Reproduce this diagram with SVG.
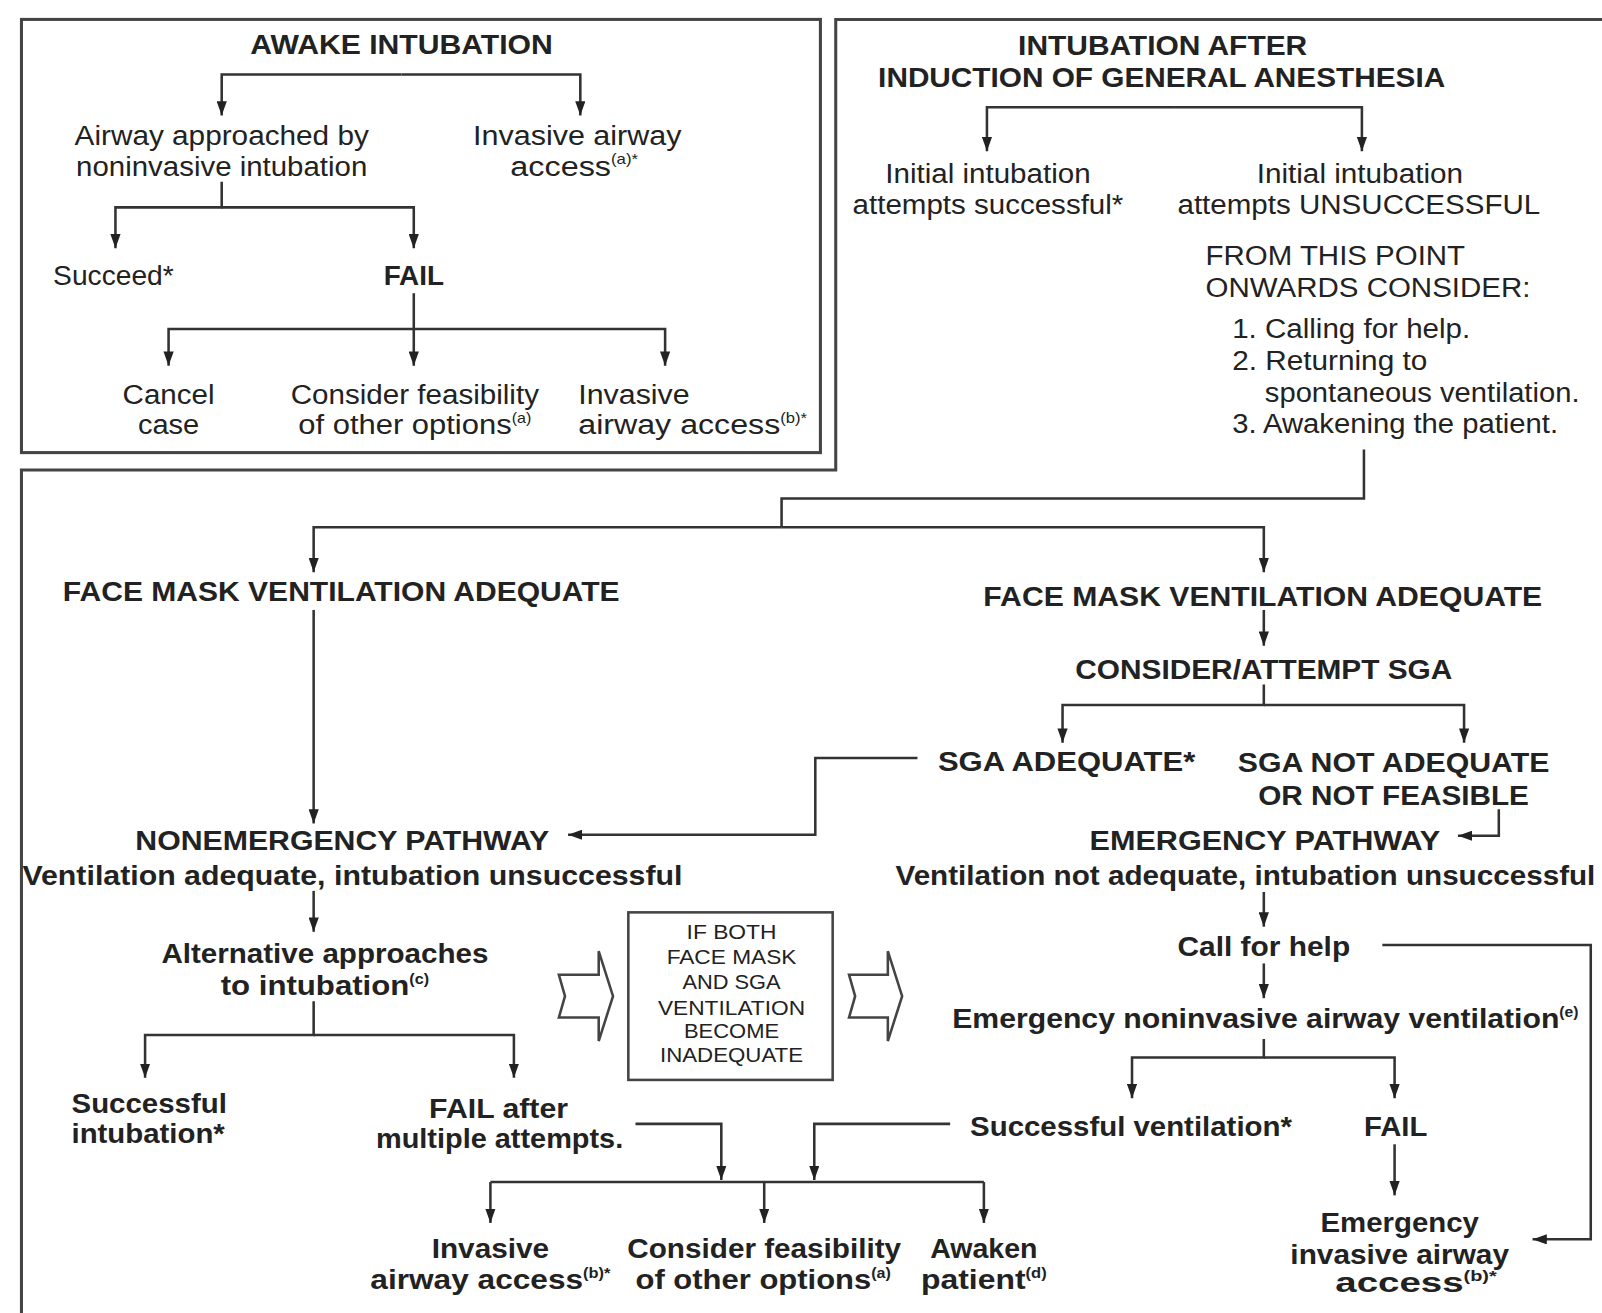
<svg xmlns="http://www.w3.org/2000/svg" width="1602" height="1313" viewBox="0 0 1602 1313">
<style>
text{font-family:"Liberation Sans",Arial,Helvetica,sans-serif;fill:#222;font-size:27px}
.b{font-weight:bold}
.m{text-anchor:middle}
.s{text-anchor:start}
.sm{font-size:19px}
.sup{font-size:14px}
.frame{fill:none;stroke:#444;stroke-width:3}
.c path{fill:none;stroke:#333;stroke-width:2.5}
.blk{fill:#fff;stroke:#444;stroke-width:2.5}
</style>
<defs>
<marker id="ah" viewBox="0 0 14 10" markerWidth="14" markerHeight="10" refX="14" refY="5" orient="auto" markerUnits="userSpaceOnUse">
<path d="M0,0 L14,5 L0,10 z" fill="#222"/>
</marker>
</defs>
<rect width="1602" height="1313" fill="#fff"/>
<g transform="scale(1.02168)">

<g id="frames">
<rect class="frame" x="21" y="19" width="782" height="424"/>
<path class="frame" d="M818,19 H1606 V1318 H21 V460 H818 Z"/>
</g>

<g class="c" id="connectors">
<path d="M393,73 H217 V113" marker-end="url(#ah)"/>
<path d="M393,73 H568 V113" marker-end="url(#ah)"/>
<path d="M217,178 V203 H113 V243" marker-end="url(#ah)"/>
<path d="M217,203 H405 V243" marker-end="url(#ah)"/>
<path d="M405,287 V358" marker-end="url(#ah)"/>
<path d="M405,322 H165 V358" marker-end="url(#ah)"/>
<path d="M405,322 H651 V358" marker-end="url(#ah)"/>
<path d="M1150,105 H966 V148" marker-end="url(#ah)"/>
<path d="M1150,105 H1333 V148" marker-end="url(#ah)"/>
<path d="M1335,440 V488 H765 V516"/>
<path d="M765,516 H307 V560" marker-end="url(#ah)"/>
<path d="M765,516 H1237 V560" marker-end="url(#ah)"/>
<path d="M307,597 V806" marker-end="url(#ah)"/>
<path d="M898,742 H798 V817 H556" marker-end="url(#ah)"/>
<path d="M307,872 V912" marker-end="url(#ah)"/>
<path d="M307,980 V1013 H142 V1055" marker-end="url(#ah)"/>
<path d="M307,1013 H503 V1055" marker-end="url(#ah)"/>
<path d="M622,1100 H706 V1155" marker-end="url(#ah)"/>
<path d="M930,1100 H797 V1155" marker-end="url(#ah)"/>
<path d="M480,1157 H963"/>
<path d="M480,1157 V1197" marker-end="url(#ah)"/>
<path d="M748,1157 V1197" marker-end="url(#ah)"/>
<path d="M963,1157 V1197" marker-end="url(#ah)"/>
<path d="M1237,597 V632" marker-end="url(#ah)"/>
<path d="M1237,670 V690 H1040 V727" marker-end="url(#ah)"/>
<path d="M1237,690 H1433 V727" marker-end="url(#ah)"/>
<path d="M1467,792 V818 H1427" marker-end="url(#ah)"/>
<path d="M1237,873 V907" marker-end="url(#ah)"/>
<path d="M1353,925 H1557 V1213 H1500" marker-end="url(#ah)"/>
<path d="M1237,943 V977" marker-end="url(#ah)"/>
<path d="M1237,1017 V1035 H1108 V1075" marker-end="url(#ah)"/>
<path d="M1237,1035 H1365 V1075" marker-end="url(#ah)"/>
<path d="M1365,1120 V1170" marker-end="url(#ah)"/>
</g>

<g id="awake-title"><text class="b m" x="393" y="53" textLength="296" lengthAdjust="spacingAndGlyphs">AWAKE INTUBATION</text></g>
<g id="awake-noninvasive">
<text class="m" x="217" y="142" textLength="288" lengthAdjust="spacingAndGlyphs">Airway approached by</text>
<text class="m" x="217" y="172" textLength="285" lengthAdjust="spacingAndGlyphs">noninvasive intubation</text>
</g>
<g id="awake-invasive">
<text class="m" x="565" y="142" textLength="204" lengthAdjust="spacingAndGlyphs">Invasive airway</text>
<text class="m" x="562" y="172" textLength="125" lengthAdjust="spacingAndGlyphs">access<tspan class="sup" dy="-11">(a)*</tspan></text>
</g>
<g id="awake-succeed"><text class="m" x="111" y="279" textLength="118" lengthAdjust="spacingAndGlyphs">Succeed*</text></g>
<g id="awake-fail"><text class="b m" x="405" y="279" textLength="59" lengthAdjust="spacingAndGlyphs">FAIL</text></g>
<g id="awake-cancel">
<text class="m" x="165" y="395" textLength="90" lengthAdjust="spacingAndGlyphs">Cancel</text>
<text class="m" x="165" y="425" textLength="60" lengthAdjust="spacingAndGlyphs">case</text>
</g>
<g id="awake-consider">
<text class="m" x="406" y="395" textLength="243" lengthAdjust="spacingAndGlyphs">Consider feasibility</text>
<text class="m" x="406" y="425" textLength="228" lengthAdjust="spacingAndGlyphs">of other options<tspan class="sup" dy="-11">(a)</tspan></text>
</g>
<g id="awake-invasive2">
<text class="s" x="566" y="395" textLength="109" lengthAdjust="spacingAndGlyphs">Invasive</text>
<text class="s" x="566" y="425" textLength="224" lengthAdjust="spacingAndGlyphs">airway access<tspan class="sup" dy="-11">(b)*</tspan></text>
</g>

<g id="ga-title">
<text class="b m" x="1138" y="54" textLength="283" lengthAdjust="spacingAndGlyphs">INTUBATION AFTER</text>
<text class="b m" x="1137" y="85" textLength="555" lengthAdjust="spacingAndGlyphs">INDUCTION OF GENERAL ANESTHESIA</text>
</g>
<g id="ga-success">
<text class="m" x="967" y="179" textLength="201" lengthAdjust="spacingAndGlyphs">Initial intubation</text>
<text class="m" x="967" y="209" textLength="265" lengthAdjust="spacingAndGlyphs">attempts successful*</text>
</g>
<g id="ga-unsuccess">
<text class="m" x="1331" y="179" textLength="202" lengthAdjust="spacingAndGlyphs">Initial intubation</text>
<text class="m" x="1330" y="209" textLength="355" lengthAdjust="spacingAndGlyphs">attempts UNSUCCESSFUL</text>
</g>
<g id="ga-consider">
<text class="s" x="1180" y="259" textLength="254" lengthAdjust="spacingAndGlyphs">FROM THIS POINT</text>
<text class="s" x="1180" y="291" textLength="318" lengthAdjust="spacingAndGlyphs">ONWARDS CONSIDER:</text>
<text class="s" x="1206" y="331" textLength="233" lengthAdjust="spacingAndGlyphs">1. Calling for help.</text>
<text class="s" x="1206" y="362" textLength="191" lengthAdjust="spacingAndGlyphs">2. Returning to</text>
<text class="s" x="1238" y="393" textLength="308" lengthAdjust="spacingAndGlyphs">spontaneous ventilation.</text>
<text class="s" x="1206" y="424" textLength="319" lengthAdjust="spacingAndGlyphs">3. Awakening the patient.</text>
</g>

<g id="fmv-left"><text class="b m" x="334" y="588" textLength="545" lengthAdjust="spacingAndGlyphs">FACE MASK VENTILATION ADEQUATE</text></g>
<g id="fmv-right"><text class="b m" x="1236" y="593" textLength="547" lengthAdjust="spacingAndGlyphs">FACE MASK VENTILATION ADEQUATE</text></g>
<g id="sga"><text class="b m" x="1237" y="665" textLength="369" lengthAdjust="spacingAndGlyphs">CONSIDER/ATTEMPT SGA</text></g>
<g id="sga-ok"><text class="b m" x="1044" y="755" textLength="252" lengthAdjust="spacingAndGlyphs">SGA ADEQUATE*</text></g>
<g id="sga-not">
<text class="b m" x="1364" y="756" textLength="305" lengthAdjust="spacingAndGlyphs">SGA NOT ADEQUATE</text>
<text class="b m" x="1364" y="788" textLength="265" lengthAdjust="spacingAndGlyphs">OR NOT FEASIBLE</text>
</g>
<g id="nonemergency">
<text class="b m" x="335" y="832" textLength="405" lengthAdjust="spacingAndGlyphs">NONEMERGENCY PATHWAY</text>
<text class="b m" x="345" y="866" textLength="646" lengthAdjust="spacingAndGlyphs">Ventilation adequate, intubation unsuccessful</text>
</g>
<g id="emergency">
<text class="b m" x="1238" y="832" textLength="343" lengthAdjust="spacingAndGlyphs">EMERGENCY PATHWAY</text>
<text class="b m" x="1219" y="866" textLength="685" lengthAdjust="spacingAndGlyphs">Ventilation not adequate, intubation unsuccessful</text>
</g>
<g id="alternative">
<text class="b m" x="318" y="943" textLength="320" lengthAdjust="spacingAndGlyphs">Alternative approaches</text>
<text class="b m" x="318" y="974" textLength="204" lengthAdjust="spacingAndGlyphs">to intubation<tspan class="sup" dy="-11">(c)</tspan></text>
</g>
<g id="successful-intubation">
<text class="b s" x="70" y="1089" textLength="152" lengthAdjust="spacingAndGlyphs">Successful</text>
<text class="b s" x="70" y="1119" textLength="150" lengthAdjust="spacingAndGlyphs">intubation*</text>
</g>
<g id="fail-after">
<text class="b m" x="488" y="1094" textLength="136" lengthAdjust="spacingAndGlyphs">FAIL after</text>
<text class="b m" x="489" y="1124" textLength="242" lengthAdjust="spacingAndGlyphs">multiple attempts.</text>
</g>
<g id="both-inadequate">
<rect class="blk" x="615" y="893" width="200" height="164"/>
<text class="sm m" x="716" y="919" textLength="88" lengthAdjust="spacingAndGlyphs">IF BOTH</text>
<text class="sm m" x="716" y="944" textLength="127" lengthAdjust="spacingAndGlyphs">FACE MASK</text>
<text class="sm m" x="716" y="968" textLength="96" lengthAdjust="spacingAndGlyphs">AND SGA</text>
<text class="sm m" x="716" y="993" textLength="144" lengthAdjust="spacingAndGlyphs">VENTILATION</text>
<text class="sm m" x="716" y="1016" textLength="93" lengthAdjust="spacingAndGlyphs">BECOME</text>
<text class="sm m" x="716" y="1039" textLength="140" lengthAdjust="spacingAndGlyphs">INADEQUATE</text>
</g>
<g id="block-arrows">
<path class="blk" d="M547,954 H586 V931 L600,975 L586,1019 V996 H547 L553,975 Z"/>
<path class="blk" d="M831,954 H869 V931 L883,975 L869,1019 V996 H831 L837,975 Z"/>
</g>
<g id="bottom-invasive">
<text class="b m" x="480" y="1231" textLength="115" lengthAdjust="spacingAndGlyphs">Invasive</text>
<text class="b m" x="480" y="1262" textLength="235" lengthAdjust="spacingAndGlyphs">airway access<tspan class="sup" dy="-11">(b)*</tspan></text>
</g>
<g id="bottom-consider">
<text class="b m" x="748" y="1231" textLength="268" lengthAdjust="spacingAndGlyphs">Consider feasibility</text>
<text class="b m" x="747" y="1262" textLength="250" lengthAdjust="spacingAndGlyphs">of other options<tspan class="sup" dy="-11">(a)</tspan></text>
</g>
<g id="awaken">
<text class="b m" x="963" y="1231" textLength="105" lengthAdjust="spacingAndGlyphs">Awaken</text>
<text class="b m" x="963" y="1262" textLength="123" lengthAdjust="spacingAndGlyphs">patient<tspan class="sup" dy="-11">(d)</tspan></text>
</g>
<g id="call-help"><text class="b m" x="1237" y="936" textLength="169" lengthAdjust="spacingAndGlyphs">Call for help</text></g>
<g id="emergency-noninvasive"><text class="b s" x="932" y="1006" textLength="613" lengthAdjust="spacingAndGlyphs">Emergency noninvasive airway ventilation<tspan class="sup" dy="-11">(e)</tspan></text></g>
<g id="successful-ventilation"><text class="b m" x="1107" y="1112" textLength="315" lengthAdjust="spacingAndGlyphs">Successful ventilation*</text></g>
<g id="fail-right"><text class="b m" x="1366" y="1112" textLength="62" lengthAdjust="spacingAndGlyphs">FAIL</text></g>
<g id="emergency-invasive">
<text class="b m" x="1370" y="1206" textLength="155" lengthAdjust="spacingAndGlyphs">Emergency</text>
<text class="b m" x="1370" y="1237" textLength="214" lengthAdjust="spacingAndGlyphs">invasive airway</text>
<text class="b m" x="1386" y="1265" textLength="158" lengthAdjust="spacingAndGlyphs">access<tspan class="sup" dy="-11">(b)*</tspan></text>
</g>
</g>
</svg>
